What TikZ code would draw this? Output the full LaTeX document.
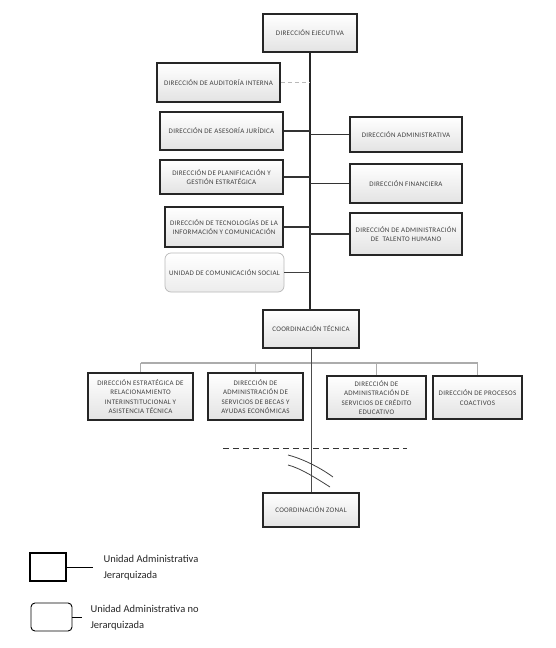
\documentclass[tikz,border=0pt]{standalone}
\usepackage{fontspec}
\setmainfont{Carlito}
\newfontfamily\boxfont[LetterSpace=4]{Carlito}
\usetikzlibrary{shadows}
\begin{document}
\begin{tikzpicture}[x=1pt,y=-1pt,
  hbox/.style={draw=black!85, line width=1.6pt, top color=white, bottom color=gray!22,
    drop shadow={shadow xshift=0.8pt,shadow yshift=-0.8pt,opacity=0.4},
    align=center, inner sep=1pt, text=black!75,
    font=\boxfont\fontsize{7}{9.3}\selectfont},
  sbox/.style={draw=gray!55, line width=0.7pt, rounded corners=6pt, top color=white, bottom color=gray!15,
    align=center, inner sep=1pt, text=black!75,
    font=\boxfont\fontsize{7}{9.3}\selectfont},
  trunk/.style={draw=black!85, line width=1.6pt},
  link/.style={draw=black!80, line width=1.3pt},
  bus/.style={draw=gray!65, line width=1.2pt},
  legtext/.style={anchor=west, align=left, font=\fontsize{10.5}{16}\selectfont, text=black!85}
]
\useasboundingbox (0,0) rectangle (556,648);

\node[hbox, minimum width=94pt, minimum height=38pt] (eje) at (310,33) {DIRECCIÓN EJECUTIVA};
\node[hbox, minimum width=123pt, minimum height=39pt] (aud) at (218.5,82.5) {DIRECCIÓN DE AUDITORÍA INTERNA};
\node[hbox, minimum width=123pt, minimum height=38pt] (ase) at (221.5,131) {DIRECCIÓN DE ASESORÍA JURÍDICA};
\node[hbox, minimum width=112pt, minimum height=35pt] (adm) at (406,134.5) {DIRECCIÓN ADMINISTRATIVA};
\node[hbox, minimum width=123pt, minimum height=34pt] (pla) at (221.5,177) {DIRECCIÓN DE PLANIFICACIÓN Y\\GESTIÓN ESTRATÉGICA};
\node[hbox, minimum width=112pt, minimum height=39pt] (fin) at (406,183.5) {DIRECCIÓN FINANCIERA};
\node[hbox, minimum width=118pt, minimum height=40pt] (tec) at (224,227) {DIRECCIÓN DE TECNOLOGÍAS DE LA\\INFORMACIÓN Y COMUNICACIÓN};
\node[hbox, minimum width=112pt, minimum height=42pt] (tal) at (406,234) {DIRECCIÓN DE ADMINISTRACIÓN\\DE \ TALENTO HUMANO};
\node[sbox, minimum width=119pt, minimum height=39pt] (com) at (224.5,272.5) {UNIDAD DE COMUNICACIÓN SOCIAL};
\node[hbox, minimum width=96pt, minimum height=38pt] (cot) at (311,329) {COORDINACIÓN TÉCNICA};

\node[hbox, minimum width=105pt, minimum height=47pt] (b1) at (140.5,396.5) {DIRECCIÓN ESTRATÉGICA DE\\RELACIONAMIENTO\\INTERINSTITUCIONAL Y\\ASISTENCIA TÉCNICA};
\node[hbox, minimum width=95pt, minimum height=47pt] (b2) at (255.5,396.5) {DIRECCIÓN DE\\ADMINISTRACIÓN DE\\SERVICIOS DE BECAS Y\\AYUDAS ECONÓMICAS};
\node[hbox, minimum width=99pt, minimum height=43pt] (b3) at (376.5,397.5) {DIRECCIÓN DE\\ADMINISTRACIÓN DE\\SERVICIOS DE CRÉDITO\\EDUCATIVO};
\node[hbox, minimum width=89pt, minimum height=43pt] (b4) at (477.5,397.5) {DIRECCIÓN DE PROCESOS\\COACTIVOS};
\node[hbox, minimum width=96pt, minimum height=34pt] (zon) at (311,510) {COORDINACIÓN ZONAL};

% trunk
\path[trunk] (eje.south) -- (eje.south |- cot.north);
\path[draw=gray!55, line width=1.2pt, dash pattern=on 4pt off 3pt] (aud.east) -- (aud.east -| eje.south);
\path[link] (ase.east) -- (ase.east -| eje.south);
\path[link] (pla.east) -- (pla.east -| eje.south);
\path[link] (tec.east) -- (tec.east -| eje.south);
\path[draw=black!75, line width=1pt] (com.east) -- (com.east -| eje.south);
\path[link] (adm.west) -- (adm.west -| eje.south);
\path[link] (fin.west) -- (fin.west -| eje.south);
\path[link] (tal.west) -- (tal.west -| eje.south);

% bus
\coordinate (busy) at (0,363);
\path[bus] (b1.north |- busy) -- (b4.north |- busy);
\path[bus] (b1.north) -- (b1.north |- busy);
\path[bus] (b2.north) -- (b2.north |- busy);
\path[bus] (b3.north) -- (b3.north |- busy);
\path[bus] (b4.north) -- (b4.north |- busy);
\path[draw=black!70, line width=1pt] (cot.south) -- (zon.north);

% dashed line and break marks
\coordinate (dl) at (223,448);
\coordinate (dr) at (407,448);
\path[draw=black!80, line width=0.9pt, dash pattern=on 6pt off 4pt] (dl) -- (dr);
\coordinate (s1a) at (288,455);
\coordinate (s1b) at (333,477);
\coordinate (s2a) at (288,465);
\coordinate (s2b) at (330,487);
\path[draw=black!75, line width=0.8pt] (s1a) .. controls (300,458) and (318,466) .. (s1b);
\path[draw=black!75, line width=0.8pt] (s2a) .. controls (300,468) and (316,478) .. (s2b);

% legend
\node[draw=black, line width=1.6pt, minimum width=36pt, minimum height=28pt, inner sep=0pt] (lg1) at (48,567) {};
\coordinate (lg1e) at (93,567);
\path[draw=black, line width=1pt] (lg1.east) -- (lg1e);
\node[legtext] (lt1) at (100,568) {Unidad Administrativa\\Jerarquizada};
\node[draw=black, line width=0.9pt, rounded corners=4pt, minimum width=41pt, minimum height=28pt, inner sep=0pt] (lg2) at (51.5,617) {};
\coordinate (lg2e) at (82,617);
\path[draw=black, line width=0.9pt] (lg2.east) -- (lg2e);
\node[legtext] (lt2) at (87,617.5) {Unidad Administrativa no\\Jerarquizada};
\end{tikzpicture}
\end{document}
